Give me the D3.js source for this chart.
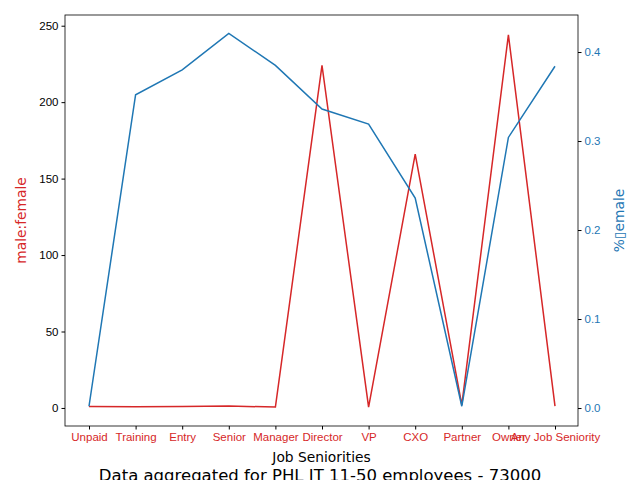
<!DOCTYPE html>
<html><head><meta charset="utf-8">
<script src="https://cdn.jsdelivr.net/npm/d3@7"></script>
<style>body{margin:0;background:#fff}svg{font-family:"DejaVu Sans",sans-serif}</style>
</head><body>
<script>
var categories = ["Unpaid","Training","Entry","Senior","Manager","Director","VP","CXO","Partner","Owner","Any Job Seniority"];
var ratioValues = [1, 0.8, 1, 1.2, 0.6, 224, 0.5, 166, 2, 244, 1.2];
var femaleValues = [0.002, 0.352, 0.380, 0.421, 0.385, 0.336, 0.319, 0.236, 0.002, 0.304, 0.384];
var leftTicks = [0, 50, 100, 150, 200, 250];
var rightTicks = [0, 0.1, 0.2, 0.3, 0.4];

var W = 640, H = 480;
var m = {left: 65, right: 62, top: 15, bottom: 54};
var RED = "#d62728", BLUE = "#1f77b4";

var svg = d3.select("body").append("svg").attr("width", W).attr("height", H);

var x = d3.scalePoint().domain(categories).range([89, 555]);
var yL = d3.scaleLinear().domain([-11.8, 257]).range([H - m.bottom, m.top]);
var yR = d3.scaleLinear().domain([-0.0202, 0.4416]).range([H - m.bottom, m.top]);

var gx = svg.append("g").attr("transform", "translate(0," + (H - m.bottom) + ")")
    .call(d3.axisBottom(x).tickSizeOuter(0).tickSize(3.5).tickPadding(3));
gx.selectAll("text").attr("fill", RED).attr("font-size", 11.5);

var gl = svg.append("g").attr("transform", "translate(" + m.left + ",0)")
    .call(d3.axisLeft(yL).tickValues(leftTicks).tickSize(3.5).tickPadding(3));
gl.selectAll("text").attr("fill", "#000").attr("font-size", 11.5);

var gr = svg.append("g").attr("transform", "translate(" + (W - m.right) + ",0)")
    .call(d3.axisRight(yR).tickValues(rightTicks).tickFormat(d3.format(".1f")).tickSize(3.5).tickPadding(3));
gr.selectAll("text").attr("fill", BLUE).attr("font-size", 11.5);
gr.selectAll(".tick line").attr("stroke", "#000");

[gx, gl, gr].forEach(function (g) { g.select(".domain").remove(); });

svg.append("rect").attr("x", m.left).attr("y", m.top)
    .attr("width", W - m.left - m.right).attr("height", H - m.top - m.bottom)
    .attr("fill", "none").attr("stroke", "#000").attr("stroke-width", 0.8);

svg.append("path").datum(ratioValues)
    .attr("fill", "none").attr("stroke", RED).attr("stroke-width", 1.5)
    .attr("d", d3.line().x(function (d, i) { return x(categories[i]); }).y(function (d) { return yL(d); }));

svg.append("path").datum(femaleValues)
    .attr("fill", "none").attr("stroke", BLUE).attr("stroke-width", 1.5)
    .attr("d", d3.line().x(function (d, i) { return x(categories[i]); }).y(function (d) { return yR(d); }));

svg.append("text").attr("x", (m.left + W - m.right) / 2).attr("y", 462)
    .attr("text-anchor", "middle").attr("font-size", 13.8).text("Job Seniorities");

svg.append("text").attr("transform", "translate(26," + ((m.top + H - m.bottom) / 2) + ") rotate(-90)")
    .attr("text-anchor", "middle").attr("font-size", 13.8).attr("fill", RED).text("male:female");

svg.append("text").attr("transform", "translate(624," + ((m.top + H - m.bottom) / 2) + ") rotate(-90)")
    .attr("text-anchor", "middle").attr("font-size", 13.8).attr("fill", BLUE).text("%\u25AFemale");

svg.append("text").attr("x", 320).attr("y", 481)
    .attr("text-anchor", "middle").attr("font-size", 16.5).text("Data aggregated for PHL IT 11-50 employees - 73000");
</script>
</body></html>
